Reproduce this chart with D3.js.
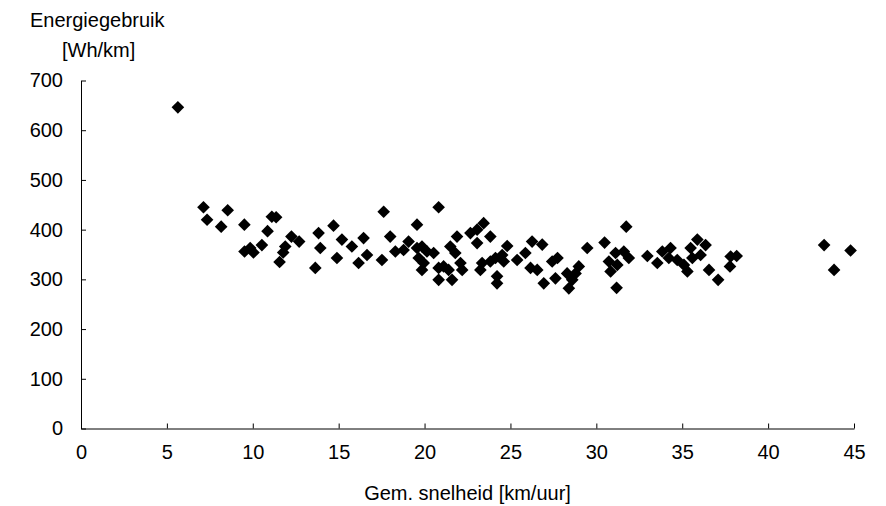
<!DOCTYPE html>
<html><head><meta charset="utf-8">
<script src="https://cdn.jsdelivr.net/npm/d3@7"></script>
<style>
body{margin:0;background:#fff;}
svg{display:block;font-family:"Liberation Sans",Arial,sans-serif;}
</style></head>
<body>
<svg id="chart" width="886" height="506"></svg>
<script>
// Average speed [km/uur]
const speed = [5.64,7.13,7.34,8.54,8.16,9.51,9.52,9.85,10.04,10.53,10.86,11.11,11.36,12.25,11.89,11.77,11.56,12.7,13.83,13.93,
13.64,14.70,15.19,14.90,15.77,16.45,16.16,16.65,17.62,18.0,17.52,18.30,19.07,18.78,19.56,19.56,19.85,20.14,19.66,19.95,
19.85,20.53,20.82,20.82,21.11,21.40,20.82,21.60,21.89,21.50,21.79,22.09,22.19,22.67,23.06,23.44,23.06,23.83,23.25,23.35,
23.83,24.13,24.22,24.22,24.81,24.52,24.61,25.39,25.87,26.26,26.85,26.17,26.56,26.94,27.43,27.74,27.62,28.30,28.60,28.40,
28.98,28.79,29.47,30.48,31.74,31.12,31.60,31.89,30.73,30.83,31.22,31.18,32.97,33.55,33.84,34.32,34.22,34.71,35.10,35.30,
35.49,35.88,36.36,35.59,36.07,36.56,37.09,37.82,38.17,37.78,43.26,43.84,44.8];
// Energy use [Wh/km]
const energy = [646,445,420,439,406,410,356,363,354,369,397,426,425,386,366,354,335,376,393,363,
323,408,380,343,366,383,333,349,436,386,339,356,376,359,410,363,366,356,343,333,
319,353,445,323,326,319,299,299,386,366,353,333,319,393,400,413,373,386,319,333,
336,343,292,306,367,349,336,339,353,376,370,323,319,292,336,343,302,312,299,282,
326,312,363,374,406,353,356,343,336,316,329,283,347,333,356,363,343,339,329,316,
363,380,369,343,349,319,299,346,347,326,369,319,358];
const xTicks = [0,5,10,15,20,25,30,35,40,45];
const yTicks = [0,100,200,300,400,500,600,700];
const yTitle = ["Energiegebruik","[Wh/km]"];
const xTitle = "Gem. snelheid [km/uur]";

const svg = d3.select("#chart");
const mLeft = 81, mRight = 854, mTop = 80.5, mBottom = 428.5;
const x = d3.scaleLinear().domain([0,45]).range([mLeft,mRight]);
const y = d3.scaleLinear().domain([0,700]).range([mBottom,mTop]);

const fs = 20;
const gx = svg.append("g").attr("transform",`translate(0,${mBottom})`)
  .call(d3.axisBottom(x).tickValues(xTicks).tickFormat(d3.format("d")).tickSizeInner(-5).tickSizeOuter(0).tickPadding(16));
const gy = svg.append("g").attr("transform",`translate(${mLeft},0)`)
  .call(d3.axisLeft(y).tickValues(yTicks).tickFormat(d3.format("d")).tickSizeInner(-5).tickSizeOuter(0).tickPadding(18));
[gx,gy].forEach(g=>{
  g.select(".domain").attr("stroke","#000").attr("stroke-width",1);
  g.selectAll(".tick line").attr("stroke","#000");
  g.selectAll(".tick text").attr("font-size",fs).attr("fill","#000").attr("font-family","Liberation Sans, Arial, sans-serif");
});

const pts = speed.map((s,i)=>({s, e: energy[i]}));
svg.append("g").selectAll("path").data(pts).join("path")
  .attr("d", d3.symbol(d3.symbolSquare, 80))
  .attr("transform", d=>`translate(${x(d.s)},${y(d.e)}) rotate(45)`)
  .attr("fill","#000");

svg.append("text").attr("x",30).attr("y",27).attr("font-size",fs).text(yTitle[0]);
svg.append("text").attr("x",62).attr("y",57).attr("font-size",fs).text(yTitle[1]);
svg.append("text").attr("x",(mLeft+mRight)/2).attr("y",500).attr("text-anchor","middle").attr("font-size",fs).text(xTitle);
</script>
</body></html>
